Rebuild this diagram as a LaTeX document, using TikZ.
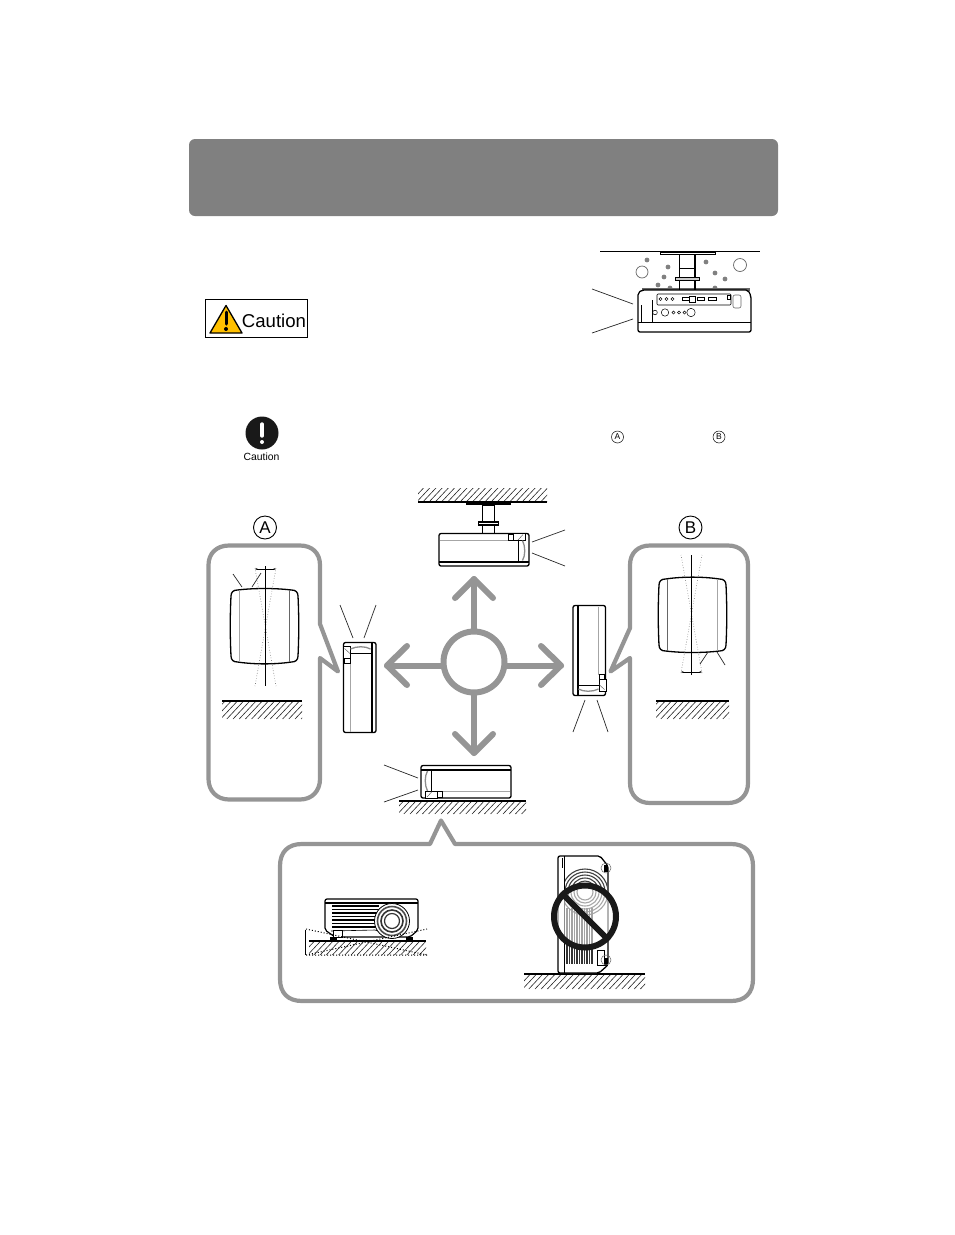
\documentclass[tikz,border=0pt]{standalone}
\usepackage{fontspec}
\setmainfont{Liberation Sans}
\usetikzlibrary{arrows.meta}
\definecolor{bubble}{HTML}{959595}
\definecolor{head}{HTML}{808080}
\definecolor{warn}{HTML}{FFC000}
\tikzset{
  bubbleline/.style={draw=bubble,line width=4.2pt,line join=round,fill=white},
  dirarrow/.style={draw=bubble,line width=6pt,line cap=round,line join=round},
  thin leader/.style={draw=black!85,line width=.7pt},
  body/.style={draw=black,line width=1.3pt,rounded corners=2pt,fill=white},
  greyline/.style={draw=black!35,line width=1pt},
  dotline/.style={draw=black!55,line width=.6pt,dotted},
  hatchline/.style={draw=black!85,line width=.6pt},
  groundline/.style={draw=black,line width=1.5pt},
  pics/sideproj/.style={code={
    \path[body] (-45,-16) -- (45,-16) -- (45,16.5) -- (-45,16.5) -- cycle;
    \draw[line width=2pt] (-45,12) -- (45,12);
    \draw[line width=1pt] (34.5,-16) -- (34.5,12);
    \draw[greyline] (-44,-9) -- (24,-9);
    \draw[line width=.5pt,fill=white] (24,-15) rectangle (29,-9.5);
    \draw[line width=.7pt,fill=white] (29,-16.5) -- (41,-16.5) -- (41,-9.5) -- (29,-9.5) -- cycle;
    \draw[line width=.4pt,black!70] (34,-9.5) -- (39,-15);
    \draw[black!45,line width=1.3pt] (38.5,-9) .. controls (41.5,-3) and (41.5,6) .. (38.5,11);
  }},
  pics/frontproj/.style={code={
    \path[draw=black,line width=1.3pt,fill=white] (-27,-36) .. controls (-10,-38) and (10,-38) .. (27,-36)
      .. controls (31,-36) and (33.5,-34) .. (33.5,-30) .. controls (34.5,-10) and (34.5,10) .. (33.5,30)
      .. controls (33.5,34) and (31,36) .. (27,36) .. controls (10,38.5) and (-10,38.5) .. (-27,36)
      .. controls (-31,36) and (-33.5,34) .. (-33.5,30) .. controls (-34.5,10) and (-34.5,-10) .. (-33.5,-30)
      .. controls (-33.5,-34) and (-31,-36) .. (-27,-36) -- cycle;
    \draw[greyline] (-25,-36) -- (-25,36);
    \draw[draw=black!60,line width=.7pt] (25,-36) -- (25,36);
    \draw[dotline] (-9.5,-58) -- (11.5,60) (11.5,-58) -- (-9.5,60);
    \draw[line width=.9pt] (1,-60) -- (1,60);
    \draw[{Stealth[length=2.5pt]}-{Stealth[length=2.5pt]},line width=.6pt] (-9.5,-57) -- (11.5,-57);
  }}
}
\newcommand{\hatchbox}[4]{%
  \begin{scope}
    \clip (#1,#2) rectangle (#3,#4);
    \foreach \hi in {0,...,30}{
      \draw[hatchline] ({#1-20+6.2*\hi},#4) -- ++(30,-32);
    }
  \end{scope}}
\begin{document}
\begin{tikzpicture}[x=1pt,y=-1pt]
\useasboundingbox (0,0) rectangle (954,1235);
% header band
\node[draw=none,fill=head,rounded corners=6pt,minimum width=589pt,minimum height=77pt,inner sep=0pt] (band) at (483.5,177.5) {};
% caution label
\node[draw=black,line width=.8pt,minimum width=102pt,minimum height=38pt,inner sep=0pt] (cbox) at (256.5,318.5) {};
\draw[black,line width=1.3pt,fill=warn,line join=round] (226,305.5) -- (242,333) -- (210,333) -- cycle;
\draw[black,line width=3pt,line cap=round] (226,312) -- (226,324);
\fill[black] (226,329) circle (2pt);
\node[inner sep=0pt,font=\fontsize{18.6pt}{20pt}\selectfont] (ctext) at (274,320.5) {Caution};
% round caution
\node[circle,fill=black!90,minimum size=33pt,inner sep=0pt] (cicon) at (262,433) {};
\draw[white,line width=3.4pt,line cap=round] (262,424) -- (262,436);
\fill[white] (262,442) circle (2pt);
\node[inner sep=0pt,font=\fontsize{10.4pt}{12pt}\selectfont] (ctext2) at (261.5,457) {Caution};
% inline A B
\node[circle,draw=black,line width=.5pt,minimum size=12pt,inner sep=0pt,font=\fontsize{8.5pt}{9pt}\selectfont] (ia) at (617.5,437) {A};
\node[circle,draw=black,line width=.5pt,minimum size=12pt,inner sep=0pt,font=\fontsize{8.5pt}{9pt}\selectfont] (ib) at (719,437) {B};
% top-right ceiling projector
\draw[black,line width=.9pt] (600,251.5) -- (760,251.5);
\draw[black,line width=.7pt,fill=white] (660,252) rectangle (715,254.5);
\foreach \dx/\dy in {647/260,668/267,664/277,706/262,715/273,725/279,658/285,670/288,715/288}
  \fill[black!50] (\dx,\dy) circle (2.4pt);
\draw[black!60,line width=.7pt] (642,272) circle (6pt) (740,265) circle (6.5pt);
\fill[black!60] (642,287.5) rectangle (750,291);
\draw[black,line width=1pt] (679,254) -- (679,290);
\draw[black,line width=1.4pt] (695,254) -- (695,290);
\draw[black,line width=.7pt] (679,268) -- (695,268);
\draw[black,line width=1pt,fill=black!20] (675,277) rectangle (699,280);
\path[body] (638,293) -- (642,290) -- (748,290) -- (751,296) -- (751,332) -- (638,332) -- cycle;
\draw[line width=1pt] (638,322) -- (751,322);
\draw[line width=.7pt] (652,300) -- (652,322);
\draw[line width=.7pt] (641,305) -- (641,322);
\draw[line width=.6pt,rounded corners=1pt] (657,294) rectangle (731,305);
\foreach \cx in {660.5,666.5,672.5} \draw[line width=.5pt] (\cx,299) circle (1.6pt);
\foreach \ax/\bx in {682/689,697/704,708/716} \draw[line width=.6pt] (\ax,297) rectangle (\bx,300.5);
\draw[line width=.7pt,fill=white] (689,296) rectangle (695,302);
\draw[line width=.6pt] (727,295) rectangle (730.5,299.5);
\draw[draw=black!60,line width=.6pt,rounded corners=2pt] (733,295) rectangle (741,308);
\draw[line width=.5pt] (655,312.5) circle (2.3pt) (665,312.5) circle (3.7pt) (691,312.5) circle (4.2pt);
\foreach \cx in {673.5,679,684.5} \draw[line width=.5pt] (\cx,312.5) circle (1.6pt);
\draw[thin leader] (592,289) -- (633,304);
\draw[thin leader] (592,333) -- (633,319);
% A bubble
\path[bubbleline] (229,545.5) -- (300,545.5) .. controls (312,545.5) and (320,553) .. (320,565) -- (320,624) -- (338,671.5) -- (320,658) -- (320,779) .. controls (320,791) and (312,799.5) .. (300,799.5) -- (229,799.5) .. controls (217,799.5) and (208.5,791) .. (208.5,779) -- (208.5,565) .. controls (208.5,553) and (217,545.5) .. (229,545.5) -- cycle;
% B bubble
\path[bubbleline] (650,545.5) -- (728,545.5) .. controls (740,545.5) and (748,553) .. (748,565) -- (748,783) .. controls (748,795) and (740,803) .. (728,803) -- (650,803) .. controls (638,803) and (630,795) .. (630,783) -- (630,658) -- (610.5,671.5) -- (630,628) -- (630,565) .. controls (630,553) and (638,545.5) .. (650,545.5) -- cycle;
% bottom bubble
\path[bubbleline] (302,844) -- (430,844) -- (441,820.5) -- (455,844) -- (731,844) .. controls (745,844) and (753,852) .. (753,866) -- (753,979) .. controls (753,993) and (745,1001) .. (731,1001) -- (302,1001) .. controls (288,1001) and (280,993) .. (280,979) -- (280,866) .. controls (280,852) and (288,844) .. (302,844) -- cycle;
% labels A, B
\node[circle,draw=black,line width=.9pt,minimum size=23pt,inner sep=0pt,font=\fontsize{17pt}{18pt}\selectfont] (la) at (265,527.5) {A};
\node[circle,draw=black,line width=.9pt,minimum size=23pt,inner sep=0pt,font=\fontsize{17pt}{18pt}\selectfont] (lb) at (690.5,527.5) {B};
% front views in bubbles
\pic at (264.5,626) {frontproj};
\pic[rotate=180] at (692.5,615) {frontproj};
\draw[thin leader] (233,574) -- (242,587);
\draw[thin leader] (261,573) -- (252,587);
\draw[thin leader] (708,652) -- (700,664);
\draw[thin leader] (717,652) -- (725,665);
\hatchbox{222}{702}{302}{719}
\draw[groundline] (222,701) -- (302,701);
\hatchbox{656}{702}{729}{719}
\draw[groundline] (656,701) -- (729,701);
% central ceiling projector
\hatchbox{418}{488}{547}{502}
\draw[groundline] (418,502) -- (547,502);
\fill[black] (466,502) rectangle (511,505);
\draw[line width=1pt,fill=white] (482.5,505) rectangle (494.5,533);
\draw[line width=1.1pt,fill=white] (478.5,522) rectangle (498.5,525);
\pic at (484,549.5) {sideproj};
\draw[thin leader] (532,542) -- (565,530);
\draw[thin leader] (532,553) -- (565,566);
% left, right, bottom projectors
\pic[rotate=90] at (359.5,687.5) {sideproj};
\draw[thin leader] (340,605) -- (353,638);
\draw[thin leader] (376,605) -- (364,638);
\pic[rotate=-90] at (589.5,650.5) {sideproj};
\draw[thin leader] (585,700) -- (573,732);
\draw[thin leader] (597,700) -- (608,732);
\pic[rotate=180] at (466,782) {sideproj};
\draw[thin leader] (384,765) -- (418,778);
\draw[thin leader] (384,802) -- (418,790);
\hatchbox{399}{802}{526}{814}
\draw[groundline] (399,801) -- (526,801);
% central cross
\node[circle,draw=bubble,line width=6pt,minimum size=61pt,inner sep=0pt] (hub) at (474,662) {};
\coordinate (tipu) at (474,579);
\coordinate (tipd) at (474,753);
\coordinate (hubl) at (442,665.5);
\coordinate (hubr) at (506,665.5);
\coordinate (tipl) at (387,665.5);
\coordinate (tipr) at (561,665.5);
\draw[dirarrow] (hub.north) -- (tipu);
\draw[dirarrow] (455,598) -- (tipu) -- (493,598);
\draw[dirarrow] (hub.south) -- (tipd);
\draw[dirarrow] (455,734) -- (tipd) -- (493,734);
\draw[dirarrow] (hubl) -- (tipl);
\draw[dirarrow] (407,646) -- (tipl) -- (407,685);
\draw[dirarrow] (hubr) -- (tipr);
\draw[dirarrow] (541,646) -- (tipr) -- (541,685);
% tilted projector in bottom bubble
\hatchbox{309}{942}{426}{955}
\draw[groundline] (309,941) -- (426,941);
\path[draw=black,line width=1.2pt,fill=white,rounded corners=2pt] (325,899) -- (418,899) -- (418,930) -- (410,937) -- (335,937) -- (325,930) -- cycle;
\draw[line width=1.3pt] (325,903) -- (418,903);
\foreach \gy in {906,909.5,913,916.5,920,923.5,927}
  \draw[line width=1.7pt] (332,\gy) -- (379,\gy);
\draw[line width=.6pt] (331,931) -- (375,930) -- (395,937);
\draw[line width=.6pt,fill=white] (333,930) rectangle (342,937);
\fill[black] (330,936.5) rectangle (337,940.5);
\fill[black] (406,936.5) rectangle (413,940.5);
\draw[line width=.8pt,fill=white] (392,921) circle (17.5pt);
\draw[black!70,line width=1.6pt] (392,921) circle (14.5pt);
\draw[black!80,line width=1.6pt] (392,921) circle (11pt);
\draw[black!80,line width=1.2pt] (392,921) circle (7.5pt);
\draw[black,line width=1pt,dotted] (306,929) -- (427,955) (306,955) -- (427,929) (306,955) -- (427,955);
\draw[line width=.6pt] (305.5,930) -- (305.5,955);
% forbidden projector
\hatchbox{524}{975}{645}{989}
\draw[groundline] (524,974) -- (645,974);
\path[draw=black,line width=1.3pt,fill=white,rounded corners=2pt] (558,856) -- (600,856) -- (608,866) -- (608,965) -- (599,973) -- (558,973) -- cycle;
\draw[line width=.8pt] (564,856) -- (564,973);
\begin{scope}
  \clip (565,858) rectangle (607,922);
  \foreach \rr in {8,11,14,17,20,23}
    \draw[black!75,line width=1.1pt] (585,892) circle (\rr pt);
\end{scope}
\foreach \gx in {567,569.5,572,574.5,577,579.5,582,584.5,587,589.5,592}
  \draw[black!80,line width=1.3pt] (\gx,908) -- (\gx,964);
\draw[line width=.6pt,fill=white] (597,950) rectangle (604,965);
\fill[black] (604,865) rectangle (608,872);
\fill[black] (604,958) rectangle (608,966);
\draw[black!60,line width=.5pt] (606,868) circle (5pt) (606,960) circle (5pt);
\draw[line width=.9pt] (562,858) -- (562,868);
\node[circle,draw=black!90,line width=6pt,fill=white,fill opacity=.55,minimum size=62pt,inner sep=0pt] (noring) at (585,916.5) {};
\draw[black!90,line width=6pt] (noring.north west) -- (noring.south east);
\end{tikzpicture}
\end{document}
